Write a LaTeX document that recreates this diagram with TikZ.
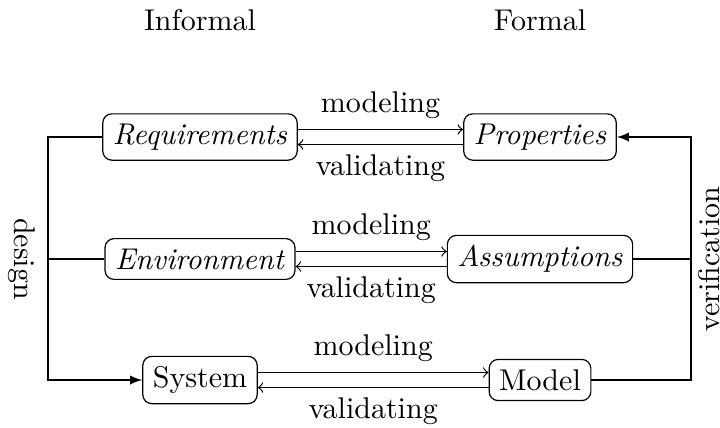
\documentclass[tikz,border=0pt]{standalone}
\usetikzlibrary{arrows,positioning}
\tikzstyle{block}=[draw, rounded corners=3pt]
\tikzstyle{arrow}=[->,>=latex]
\tikzstyle{pair}=[->]

\begin{document}
\begin{tikzpicture}[x=0.3333pt,y=-0.3333pt]
\useasboundingbox (0,0) rectangle (720,427);
% column titles
\node (inf) at (200,20) {Informal};
\node (frm) at (540,20) {Formal};
% informal side
\node (req) [block] at (200,137) {\textit{Requirements}};
\node (env) [block] at (200,259) {\textit{Environment}};
\node (sys) [block] at (200,380) {System};
% formal side
\node (prop) [block] at (540,137) {\textit{Properties}};
\node (asm) [block] at (540,259) {\textit{Assumptions}};
\node (mod) [block] at (540,380) {Model};
% corners of the loops
\coordinate (dtop) at (48,137);
\coordinate (dmid) at (48,259);
\coordinate (dbot) at (48,380);
\coordinate (vtop) at (691,137);
\coordinate (vmid) at (691,259);
\coordinate (vbot) at (691,380);
% modeling / validating
\draw[pair] ([yshift=2.5pt]req.east)--node[above]{modeling}([yshift=2.5pt]req.east -| prop.west);
\draw[pair] ([yshift=-2.5pt]prop.west)--node[below]{validating}([yshift=-2.5pt]prop.west -| req.east);
\draw[pair] ([yshift=2.5pt]env.east)--node[above]{modeling}([yshift=2.5pt]env.east -| asm.west);
\draw[pair] ([yshift=-2.5pt]asm.west)--node[below]{validating}([yshift=-2.5pt]asm.west -| env.east);
\draw[pair] ([yshift=2.5pt]sys.east)--node[above]{modeling}([yshift=2.5pt]sys.east -| mod.west);
\draw[pair] ([yshift=-2.5pt]mod.west)--node[below]{validating}([yshift=-2.5pt]mod.west -| sys.east);
% design
\draw[arrow] (req.west)--(dtop)--(dbot)--(sys.west);
\draw (env.west)--(dmid);
\node (dsg) [rotate=-90] at (22,259) {design};
% verification
\draw[arrow] (mod.east)--(vbot)--(vtop)--(prop.east);
\draw (asm.east)--(vmid);
\node (ver) [rotate=90] at (709,259) {verification};
\end{tikzpicture}
\end{document}
